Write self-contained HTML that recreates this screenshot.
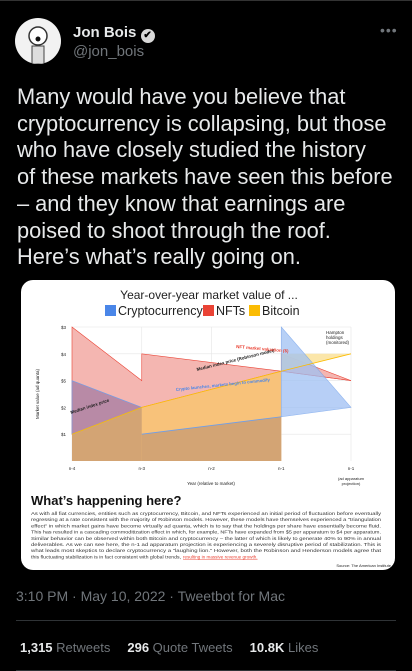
<!DOCTYPE html>
<html><head><meta charset="utf-8"><style>
body{margin:0;width:412px;height:671px;background:#000;overflow:hidden;font-family:"Liberation Sans",sans-serif;position:relative;color:#e7e9ea}
.abs{position:absolute;white-space:nowrap}
</style></head><body>
<div class="abs" style="left:0;top:0;width:412px;height:1px;background:#333"></div>
<div class="abs" style="left:15px;top:18px;width:46px;height:46px;border-radius:50%;background:#f2f2f2;overflow:hidden">
<svg width="46" height="46"><circle cx="23" cy="18" r="9" fill="#fff" stroke="#333" stroke-width="1.5"/><circle cx="23" cy="21" r="2.5" fill="#111"/><rect x="17" y="28" width="12" height="18" fill="#ddd" stroke="#444"/></svg></div>
<div class="abs" style="left:73px;top:24px;font-size:15px;font-weight:bold;color:#e7e9ea">Jon Bois <span style="display:inline-block;width:14px;height:14px;border-radius:50%;background:#d9d9d9;color:#000;font-size:10px;text-align:center;line-height:14px;vertical-align:-1px">✔</span></div>
<div class="abs" style="left:73px;top:43px;font-size:15px;color:#71767b">@jon_bois</div>
<div class="abs" style="left:380px;top:22px;font-size:14px;color:#71767b;letter-spacing:1px">•••</div>
<div class="abs" style="left:17px;top:84px;font-size:21.8px;line-height:26.7px;color:#e7e9ea">Many would have you believe that<br>cryptocurrency is collapsing, but those<br>who have closely studied the history<br>of these markets have seen this before<br>– and they know that earnings are<br>poised to shoot through the roof.<br>Here’s what’s really going on.</div>
<div class="abs" style="left:21px;top:280px;width:374px;height:290px;background:#fff;border-radius:12px;overflow:hidden">
<svg id="chart" width="374" height="290" style="position:absolute;left:0;top:0"></svg>
</div>
<div class="abs" style="left:16px;top:588px;font-size:14px;color:#71767b">3:10 PM · May 10, 2022 · Tweetbot for Mac</div>
<div class="abs" style="left:16px;top:620px;width:380px;height:1px;background:#2f3336"></div>
<div class="abs" style="left:20px;top:640px;font-size:13px;color:#71767b"><span><b style="color:#e7e9ea">1,315</b> Retweets</span><span style="margin-left:17px"><b style="color:#e7e9ea">296</b> Quote Tweets</span><span style="margin-left:17px"><b style="color:#e7e9ea">10.8K</b> Likes</span></div>
<div class="abs" style="left:16px;top:670px;width:380px;height:1px;background:#2f3336"></div>
<script>
const categories=["n-4","n-3","n-2","n-1","n-1"];
const yTicks=["$1","$2","$5","$4","$3"];
const nftTop=[[0,5],[1,3],[1,4],[3,3.35],[4,3]];
const nftRight=[[3,4],[4,3],[3,3.35]];
const btcLine=[[0,1],[1,2],[3,3.35],[4,4]];
const btcBand=[[3,4],[4,4],[3,3.35]];
const cryptoLeft=[[0,3],[1,2],[0,1]];
const cryptoLow=[[1,1],[3,1.65]];
const cryptoRight=[[3,5],[4,2],[3,1.65]];
const NS="http://www.w3.org/2000/svg";
const svg=document.getElementById('chart');
const x0=51,x1=330,yb=181;
const xs=i=>x0+i*(x1-x0)/4, ys=v=>yb-v*(yb-47)/5;
function el(t,a,name,par){const e=document.createElementNS(NS,t);for(const k in a)e.setAttribute(k,a[k]);


(par||svg).appendChild(e);return e;}
function txt(x,y,s,size,name,extra){const e=el('text',Object.assign({x:x,y:y,'font-size':size,'font-family':'Liberation Sans, sans-serif',fill:'#222'},extra||{}),name);e.textContent=s;return e;}
const pts=a=>a.map(p=>xs(p[0])+','+ys(p[1])).join(' ');
txt(188,19,"Year-over-year market value of ...",12,'chart-title',{'text-anchor':'middle'});
[["Cryptocurrency","#4a86e8",84],["NFTs","#ea4335",182],["Bitcoin","#fbbc04",228]].forEach(l=>{el('rect',{x:l[2],y:25,width:11,height:11,fill:l[1]},'legend-swatch');txt(l[2]+13,35,l[0],12.5,'legend-entry');});
yTicks.forEach((t,i)=>{el('line',{x1:x0,x2:x1,y1:ys(i+1),y2:ys(i+1),stroke:'#e5e5e5','stroke-width':0.6},'gridline');txt(x0-6,ys(i+1)+2,t,4.5,'y-tick',{'text-anchor':'end'});});
categories.forEach((c,i)=>{el('line',{x1:xs(i),x2:xs(i),y1:ys(5),y2:yb,stroke:'#e5e5e5','stroke-width':0.6},'gridline-x');txt(xs(i),yb+9,c,4.5,'x-tick',{'text-anchor':'middle'});});
txt(330,200,"(ad apparatum",4,'x-tick-note',{'text-anchor':'middle'});txt(330,205,"projection)",4,'x-tick-note',{'text-anchor':'middle'});
txt(190,205,"Year (relative to market)",4.5,'x-axis-title',{'text-anchor':'middle'});
txt(18,114,"Market value (ad quanta)",4.5,'y-axis-title',{'text-anchor':'middle',transform:'rotate(-90 18 114)'});
el('polygon',{points:pts(nftTop)+' '+pts([[3,3.35],[1,2],[0,1]]),fill:'#f4b6b1',stroke:'#ea4335','stroke-width':0.6},'nft-area');
el('polygon',{points:pts(nftRight),fill:'#f4b6b1',stroke:'#ea4335','stroke-width':0.6},'nft-area-right');
el('polygon',{points:pts(btcLine.slice(0,3))+' '+xs(3)+','+yb+' '+xs(0)+','+yb,fill:'#f8c27a'},'bitcoin-area');
el('polygon',{points:pts(cryptoLow)+' '+xs(3)+','+yb+' '+xs(1)+','+yb,fill:'#d3a474'},'crypto-low-area');
el('polygon',{points:pts([[0,1],[1,2],[1,1]])+' '+xs(1)+','+yb+' '+xs(0)+','+yb,fill:'#d3a474'},'crypto-low-left');
el('polyline',{points:pts(cryptoLow),fill:'none',stroke:'#6d9eeb','stroke-width':0.8},'crypto-line');
el('polygon',{points:pts(cryptoLeft),fill:'#b88aa6',stroke:'#6d9eeb','stroke-width':0.6},'crypto-left-area');
el('polygon',{points:pts(btcBand),fill:'#fbe3a0',opacity:0.9},'bitcoin-band');
el('polygon',{points:pts(cryptoRight),fill:'#9fc0f3',opacity:0.75,stroke:'#6d9eeb','stroke-width':0.6},'crypto-right-area');
el('polyline',{points:pts(btcLine),fill:'none',stroke:'#fbbc04','stroke-width':0.8},'bitcoin-line');
txt(176,91,"Median index price (Robinson model)",4.5,'annotation',{transform:'rotate(-14 176 91)','font-weight':'bold'});
txt(155,111,"Crypto launches, markets begin to commodify",4.3,'annotation',{fill:'#4a86e8',transform:'rotate(-6 155 111)','font-weight':'bold'});
txt(215,68,"NFT market valuation ($)",4.5,'annotation',{fill:'#ea4335',transform:'rotate(5 215 68)','font-weight':'bold'});
txt(305,54,"Hampton",4.5,'annotation');txt(305,59,"holdings",4.5,'annotation');txt(305,64,"(monitored)",4.5,'annotation');
txt(50,134,"Median index price",4.5,'annotation',{transform:'rotate(-18 50 134)','font-weight':'bold'});
txt(10,225,"What’s happening here?",13,'section-heading',{'font-weight':'bold',fill:'#111'});
const body=["As with all fiat currencies, entities such as cryptocurrency, Bitcoin, and NFTs experienced an initial period of fluctuation before eventually","regressing at a rate consistent with the majority of Robinson models. However, these models have themselves experienced a \"triangulation","effect\" in which market gains have become virtually ad quanta, which is to say that the holdings per share have essentially become fluid.","This has resulted in a cascading commoditization effect in which, for example, NFTs have expanded from $5 per apparatum to $4 per apparatum.","Similar behavior can be observed within both Bitcoin and cryptocurrency – the latter of which is likely to generate 40% to 90% in annual","deliverables. As we can see here, the n-1 ad apparatum projection is experiencing a severely disruptive period of stabilization. This is","what leads most skeptics to declare cryptocurrency a \"laughing lion.\" However, both the Robinson and Henderson models agree that","this fluctuating stabilization is in fact consistent with global trends, "];
body.forEach((l,i)=>{txt(10,235+i*6.2,l,4.6,'body-text',{fill:'#333',textLength:i==7?150:350,lengthAdjust:'spacingAndGlyphs'});});
txt(162,278.4,"resulting in massive revenue growth.",4.6,'body-link',{fill:'#ea4335','text-decoration':'underline'});
txt(370,287,"Source: The American Institute",4,'source',{'text-anchor':'end'});
</script>
</body></html>
